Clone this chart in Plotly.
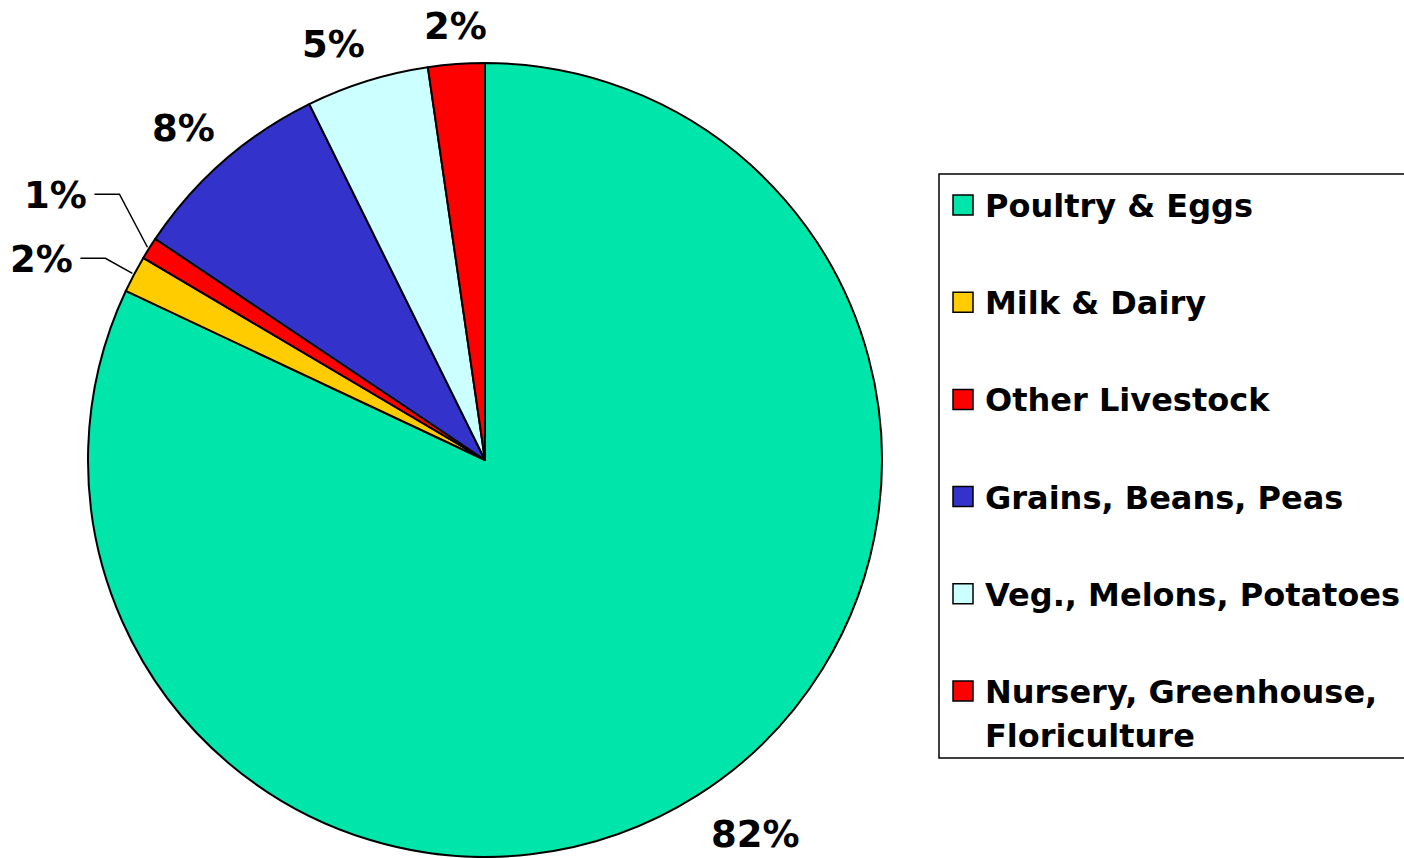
import math
import plotly.graph_objects as go

# ---- data ----
categories = ["Poultry & Eggs", "Milk & Dairy", "Other Livestock",
              "Grains, Beans, Peas", "Veg., Melons, Potatoes",
              "Nursery, Greenhouse,<br>Floriculture"]
values = [82.0, 1.5, 0.9, 8.3, 5.0, 2.3]
colors = ["#00E6AA", "#FFCC00", "#FF0000", "#3333CC", "#CCFFFF", "#FF0000"]

W, H = 1404, 858
FONT = "DejaVu Sans"

# pie geometry (pixels)
CX, CY, R = 485, 460, 397


def px(x):
    return x / W


def py(y):
    return 1 - y / H


fig = go.Figure()
fig.add_trace(go.Pie(
    labels=categories, values=values, sort=False, direction="clockwise",
    rotation=0, marker=dict(colors=colors, line=dict(color="black", width=2)),
    textinfo="none", showlegend=False,
    domain=dict(x=[px(CX - R), px(CX + R)], y=[py(CY + R), py(CY - R)]),
))

total = sum(values)
annotations = []
shapes = []

# leader-line labels: (elbow dx, elbow dy, horizontal length)
leaders = {1: (-27, -15, 25), 2: (-28, -53, 25)}

cum = 0.0
for i, v in enumerate(values):
    mid = (cum + v / 2) / total * 360.0
    cum += v
    s, c = math.sin(math.radians(mid)), math.cos(math.radians(mid))
    text = f"{v / total * 100:.0f}%"
    if i in leaders:
        ex, ey = CX + R * 1.005 * s, CY - R * 1.005 * c
        dx, dy, hl = leaders[i]
        bx, by = ex + dx, ey + dy
        tx = bx - hl
        shapes.append(dict(type="path", xref="paper", yref="paper",
                           path=f"M {px(ex)},{py(ey)} L {px(bx)},{py(by)} L {px(tx)},{py(by)}",
                           line=dict(color="black", width=1.5)))
        annotations.append(dict(x=px(tx - 5), y=py(by + 1), xref="paper", yref="paper",
                                text=f"<b>{text}</b>", showarrow=False,
                                xanchor="right", yanchor="middle",
                                font=dict(family=FONT, size=37, color="black")))
        continue
    k = 1.045
    ax, ay = CX + R * k * s, CY - R * k * c
    xa = "center" if abs(s) < 0.2 else ("left" if s > 0 else "right")
    ya = "middle" if abs(c) < 0.2 else ("bottom" if c > 0 else "top")
    ax += {"center": 0, "left": 2, "right": 5}[xa]
    ay += {"middle": 0, "bottom": 4, "top": 1}[ya]
    annotations.append(dict(x=px(ax), y=py(ay), xref="paper", yref="paper",
                            text=f"<b>{text}</b>", showarrow=False,
                            xanchor=xa, yanchor=ya,
                            font=dict(family=FONT, size=37, color="black")))

# ---- legend (drawn box) ----
LX0, LY0, LX1, LY1 = 939, 174, 1412, 758
shapes.append(dict(type="rect", xref="paper", yref="paper",
                   x0=px(LX0), x1=px(LX1), y0=py(LY1), y1=py(LY0),
                   line=dict(color="black", width=1.5), fillcolor="white", layer="below"))
ROW0, ROWSTEP, LINESTEP = 205, 97.2, 44
for i, (cat, col) in enumerate(zip(categories, colors)):
    yc = ROW0 + i * ROWSTEP
    shapes.append(dict(type="rect", xref="paper", yref="paper",
                       x0=px(953), x1=px(973), y0=py(yc + 10), y1=py(yc - 10),
                       line=dict(color="black", width=1.5), fillcolor=col))
    for j, line in enumerate(cat.split("<br>")):
        annotations.append(dict(x=px(983), y=py(yc + j * LINESTEP + 1), xref="paper", yref="paper",
                                text=f"<b>{line}</b>", showarrow=False,
                                xanchor="left", yanchor="middle",
                                font=dict(family=FONT, size=32, color="black")))

fig.update_layout(
    width=W, height=H, margin=dict(l=0, r=0, t=0, b=0),
    paper_bgcolor="white", plot_bgcolor="white",
    annotations=annotations, shapes=shapes, showlegend=False,
)

fig.write_html("out.html", config={"displayModeBar": False},
               post_script="document.body.style.margin='0px';")
